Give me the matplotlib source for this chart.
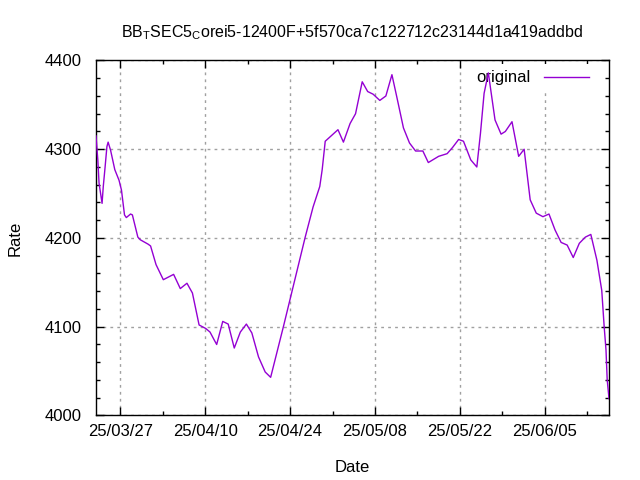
import matplotlib
matplotlib.use("Agg")
import matplotlib.pyplot as plt
import matplotlib.dates as mdates
import pandas as pd

plt.rcParams["font.family"] = ["Liberation Sans", "DejaVu Sans"]
plt.rcParams["mathtext.fontset"] = "custom"
plt.rcParams["mathtext.rm"] = "Liberation Sans"

start_date = "2025-03-23"
# days since start_date
days = [0.0, 0.3, 0.5, 1.0, 1.2, 1.5, 1.8, 2.0, 2.4, 3.1, 3.8, 4.2, 4.7, 5.0, 5.7, 6.0,
        6.9, 7.3, 8.6, 9.0, 9.9, 11.1, 12.8, 13.9, 15.0, 15.9, 17.0, 18.1, 18.8, 19.5,
        19.9, 20.9, 21.8, 22.8, 23.8, 24.8, 25.7, 26.8, 27.9, 28.8, 30.9, 34.5, 35.8,
        36.9, 37.3, 37.8, 39.9, 40.8, 41.9, 42.8, 43.9, 44.8, 45.7, 46.8, 47.8, 48.8,
        49.6, 50.7, 51.7, 52.7, 53.9, 54.8, 56.5, 57.9, 58.8, 59.8, 60.6, 61.8, 62.8,
        63.4, 64.0, 64.7, 65.8, 66.8, 67.5, 68.6, 69.7, 70.6, 71.6, 72.6, 73.7, 74.7,
        75.7, 76.7, 77.7, 78.7, 79.7, 80.7, 81.6, 82.6, 83.4, 83.8, 84.1, 84.3, 84.6]
rate = [4315, 4288, 4262, 4239, 4258, 4280, 4303, 4308, 4299, 4277, 4265, 4254, 4226, 4223,
        4227, 4226, 4201, 4198, 4193, 4191, 4170, 4153, 4159, 4143, 4149, 4138, 4102, 4098,
        4094, 4085, 4080, 4106, 4103, 4076, 4094, 4103, 4093, 4066, 4049, 4043, 4100, 4201,
        4235, 4258, 4277, 4309, 4322, 4308, 4329, 4340, 4376, 4365, 4362, 4355, 4360, 4384,
        4359, 4324, 4307, 4298, 4298, 4285, 4292, 4295, 4302, 4311, 4309, 4288, 4280, 4318,
        4363, 4386, 4333, 4317, 4320, 4331, 4292, 4300, 4243, 4228, 4224, 4227, 4209, 4195,
        4192, 4178, 4194, 4201, 4204, 4175, 4141, 4100, 4074, 4040, 4019]

major_dates = pd.date_range("2025-03-27", "2025-06-05", freq="14D")
minor_dates = pd.date_range("2025-03-20", "2025-06-19", freq="7D")

title = r"BB$_{\rm T}$SEC5$_{\rm C}$orei5-12400F+5f570ca7c122712c23144d1a419addbd"

dates = pd.Timestamp(start_date) + pd.to_timedelta(days, unit="D")

fig = plt.figure(figsize=(6.4, 4.8), dpi=100)
ax = fig.add_axes([0.15, 0.1344, 0.8016, 0.7396])

ax.plot(dates, rate, color="#9400d3", linewidth=1.0, label="original", zorder=3)

ax.set_xticks(major_dates)
ax.set_xticks(minor_dates, minor=True)
ax.xaxis.set_major_formatter(mdates.DateFormatter("%y/%m/%d"))
ax.set_yticks(range(4000, 4401, 100))
ax.set_yticks(range(4000, 4401, 20), minor=True)
ax.set_xlim(dates[0], dates[-1])
ax.set_ylim(4000, 4400)

ax.tick_params(which="both", direction="in", top=True, right=True, labelsize=12, width=1)
ax.tick_params(axis="x", which="major", length=6, pad=6)
ax.tick_params(axis="y", which="major", length=6, pad=10)
ax.tick_params(which="minor", length=3)
ax.grid(True, which="major", color="#a0a0a0", linestyle=(0, (2, 3)), linewidth=1, zorder=1)
for s in ax.spines.values():
    s.set_linewidth(1)

ax.set_xlabel("Date", fontsize=12, labelpad=15)
ax.set_ylabel("Rate", fontsize=12, labelpad=16)
ax.set_title(title, fontsize=11.5, pad=17)

leg = ax.legend(loc="upper right", frameon=True, markerfirst=False, fontsize=12,
                handlelength=2.7, handletextpad=0.8, borderaxespad=0.2, fancybox=False,
                bbox_to_anchor=(0.98, 1.0))
leg.get_frame().set_facecolor("white")
leg.get_frame().set_edgecolor("none")
leg.get_frame().set_alpha(1)
leg.set_zorder(2.5)

fig.savefig("out.png", dpi=100)
